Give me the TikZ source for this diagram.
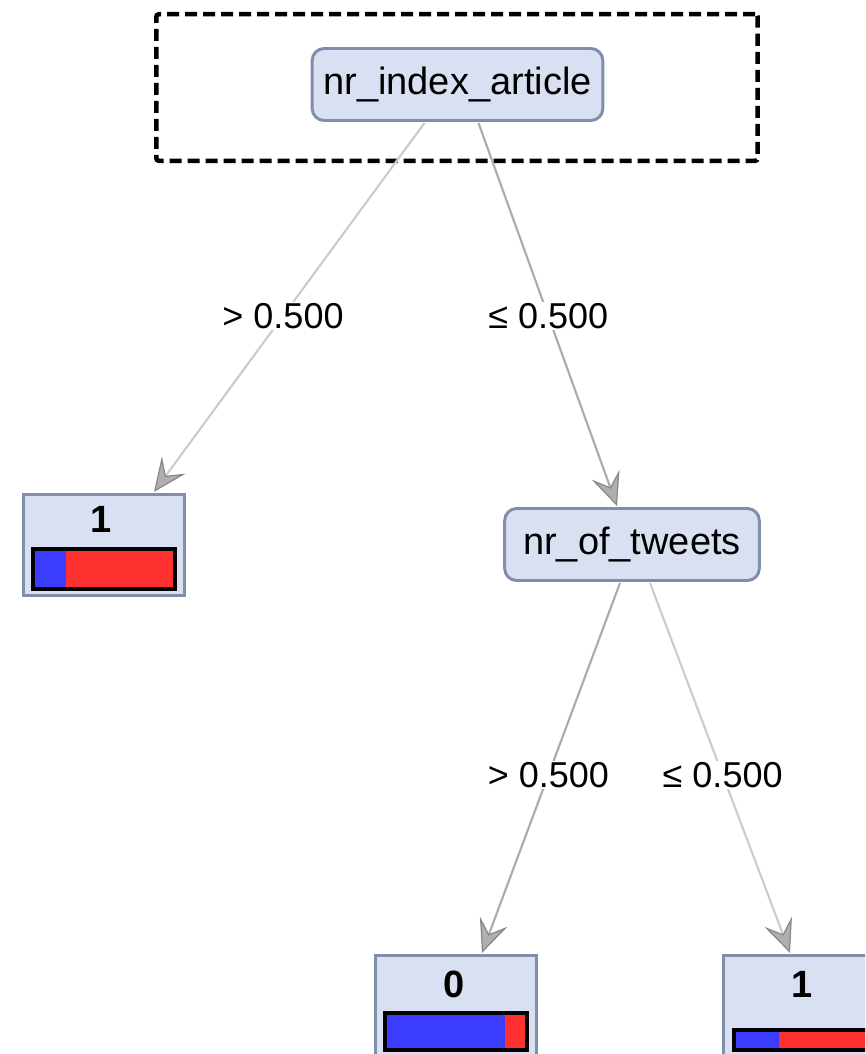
\documentclass[tikz,border=0pt]{standalone}
\usepackage{fontspec}
\setmainfont{Liberation Sans}
\usetikzlibrary{arrows.meta,calc}
\definecolor{nodefill}{RGB}{217,224,241}
\definecolor{nodeborder}{RGB}{128,142,172}
\definecolor{barblue}{RGB}{60,60,255}
\definecolor{barred}{RGB}{255,48,48}
\definecolor{edgelight}{RGB}{204,204,204}
\definecolor{edgedark}{RGB}{172,172,172}
\definecolor{arrowfill}{RGB}{175,175,175}
\definecolor{arrowdraw}{RGB}{135,135,135}
\tikzset{
  splitnode/.style={draw=nodeborder, fill=nodefill, line width=2.2pt, rounded corners=9pt,
    inner sep=0pt, minimum height=54pt, font=\fontsize{28.5}{34}\selectfont},
  leafbox/.style={draw=nodeborder, fill=nodefill, line width=2.2pt, inner sep=0pt,
    minimum width=121pt, minimum height=76pt},
  leafdigit/.style={inner sep=0pt, font=\fontsize{28.5}{34}\selectfont\bfseries},
  edgelabel/.style={fill=white, inner sep=1pt, font=\fontsize{27}{32}\selectfont},
  treeedge/.style={line width=1.6pt,
    -{Stealth[length=25pt,width=22pt,inset=10pt,fill=arrowfill,color=arrowdraw,line width=0.9pt]}},
  frame/.style={draw=black, line width=3.4pt, dash pattern=on 9pt off 4.5pt, rounded corners=2pt,
    inner sep=0pt, minimum width=451pt, minimum height=110pt},
  barline/.style={draw=black, line width=3pt}
}
\begin{document}
\begin{tikzpicture}[x=0.75pt,y=-0.75pt]
\useasboundingbox (0,0) rectangle (865,1054);
\clip (0,0) rectangle (865,1054);
\fill[white] (0,0) rectangle (865,1054);

% dashed frame
\node[frame] (frame) at (457,87.5) {};

% split nodes
\node[splitnode, minimum width=218pt] (root) at (457.5,84.5) {nr\_index\_article};
\node[splitnode, minimum width=191pt] (nrt) at (632,544.5) {nr\_of\_tweets};

% leaves
\node[leafbox] (leafA) at (104,545) {};
\node[leafbox] (leaf0) at (456,1006) {};
\node[leafbox] (leafR) at (804,1006) {};

\node[leafdigit] (leafAt) at ($(leafA.center)+(-3,-25.5)$) {1};
\node[leafdigit] (leaf0t) at ($(leaf0.center)+(-2,-22)$) {0};
\node[leafdigit] (leafRt) at ($(leafR.center)+(-2,-22)$) {1};

% bars
\fill[barblue] ($(leafA.center)+(-71,4)$) rectangle ($(leafA.center)+(-38,44)$);
\fill[barred] ($(leafA.center)+(-38,4)$) rectangle ($(leafA.center)+(71,44)$);
\draw[barline] ($(leafA.center)+(-71,4)$) rectangle ($(leafA.center)+(71,44)$);

\fill[barblue] ($(leaf0.center)+(-71,7)$) rectangle ($(leaf0.center)+(49,44)$);
\fill[barred] ($(leaf0.center)+(49,7)$) rectangle ($(leaf0.center)+(71,44)$);
\draw[barline] ($(leaf0.center)+(-71,7)$) rectangle ($(leaf0.center)+(71,44)$);

\fill[barblue] ($(leafR.center)+(-70,24)$) rectangle ($(leafR.center)+(-25,44)$);
\fill[barred] ($(leafR.center)+(-25,24)$) rectangle ($(leafR.center)+(72,44)$);
\draw[barline] ($(leafR.center)+(-70,24)$) rectangle ($(leafR.center)+(72,44)$);

% edges
\draw[treeedge, draw=edgelight] ($(root.south)+(-33,1)$) -- node[edgelabel, pos=0.523] (l1) {> 0.500} ($(leafA.north)+(50,-1)$);
\draw[treeedge, draw=edgedark] ($(root.south)+(21,1)$) -- node[edgelabel, pos=0.504] (l2) {≤ 0.500} ($(nrt.north)+(-15,-1)$);
\draw[treeedge, draw=edgedark] ($(nrt.south)+(-12,1)$) -- node[edgelabel, pos=0.519] (l3) {> 0.500} ($(leaf0.north)+(26,-1)$);
\draw[treeedge, draw=edgelight] ($(nrt.south)+(18,1)$) -- node[edgelabel, pos=0.519] (l4) {≤ 0.500} ($(leafR.north)+(-14,-1)$);
\end{tikzpicture}
\end{document}
